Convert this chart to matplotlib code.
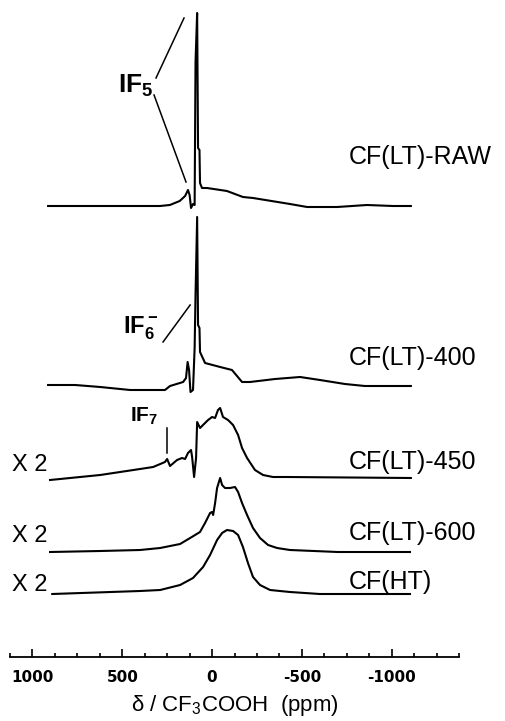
import matplotlib.pyplot as plt
from matplotlib.ticker import MultipleLocator, FixedFormatter

plt.rcParams['font.family'] = ['Liberation Sans', 'DejaVu Sans']
plt.rcParams['mathtext.default'] = 'regular'

# spectra: chemical shift (ppm) and intensity (arbitrary units)
raw_ppm = [913, 290, 235, 180, 150, 134, 125, 117, 106, 97, 92, 83, 78, 70, 67, 56, 28,
           -83, -172, -228, -434, -529, -696, -863, -1007, -1107]
raw_int = [0, 0, 1, 5, 10, 16, 11, -2, 2, 1, 144, 193, 58, 56, 23, 18, 18,
           15, 9, 8, 2, -1, -1, 1, 0, 0]

lt400_ppm = [913, 762, 623, 456, 262, 234, 161, 145, 136, 128, 120, 106, 97, 92, 83, 78,
             70, 67, 39, -45, -111, -167, -211, -351, -490, -601, -740, -851, -1107]
lt400_int = [1, 1, -1, -4, -4, 0, 4, 8, 24, 16, -6, -4, 38, 91, 169, 61,
             58, 34, 23, 19, 16, 4, 4, 7, 9, 6, 2, 0, 0]

lt450_ppm = [902, 623, 401, 328, 262, 250, 234, 195, 167, 150, 134, 117, 111, 100, 89,
             83, 67, 39, 22, 0, -17, -33, -45, -61, -89, -117, -145, -167, -195, -239,
             -284, -339, -417, -1107]
lt450_int = [-2, 3, 9, 11, 16, 19, 12, 18, 20, 19, 25, 28, 21, 1, 20,
             56, 50, 55, 58, 61, 60, 68, 70, 61, 58, 53, 43, 30, 20, 8,
             3, 1, 1, 0]

lt600_ppm = [902, 623, 401, 289, 178, 122, 67, 39, 11, 0, -6, -17, -28, -45, -56, -72,
             -100, -128, -145, -167, -195, -228, -267, -312, -362, -434, -700, -1102]
lt600_int = [0, 1, 2, 4, 8, 14, 20, 29, 39, 40, 37, 49, 64, 74, 67, 64,
             64, 65, 60, 49, 37, 24, 14, 7, 4, 2, 0, 0]

ht_ppm = [890, 401, 289, 178, 106, 50, 11, -28, -56, -83, -117, -145, -172, -200, -228,
          -267, -323, -434, -600, -1102]
ht_int = [0, 3, 4, 9, 16, 27, 39, 54, 61, 64, 63, 59, 47, 31, 17,
          9, 4, 2, 0, 0]

names = ['CF(LT)-RAW', 'CF(LT)-400', 'CF(LT)-450', 'CF(LT)-600', 'CF(HT)']
offsets = [451, 271, 179, 105, 63]
label_y = [500, 299, 195, 124, 75]
scaled = [False, False, True, True, True]

tick_vals = [1000, 500, 0, -500, -1000]
tick_text = ['1000', '500', '0', '-500', '-1000']

fig = plt.figure(figsize=(5.05, 7.21), dpi=100)
ax = fig.add_axes([10 / 505, 64 / 721, 449 / 505, 657 / 721])

spectra = [(raw_ppm, raw_int), (lt400_ppm, lt400_int), (lt450_ppm, lt450_int),
           (lt600_ppm, lt600_int), (ht_ppm, ht_int)]
for (px, iy), off, name, ly, x2 in zip(spectra, offsets, names, label_y, scaled):
    ax.plot(px, [v + off for v in iy], color='black', lw=1.5, solid_joinstyle='round')
    ax.text(-762, ly, name, fontsize=18, va='center', ha='left')
    if x2:
        ax.text(1113, ly - 3, 'X 2', fontsize=17, va='center', ha='left')

# peak assignments
ax.text(523, 564, 'IF$_5$', fontsize=19, fontweight='bold', va='baseline')
ax.plot([312, 156], [579, 639], color='black', lw=1.1)
ax.plot([323, 145], [562, 475], color='black', lw=1.1)
ax.text(495, 324, 'IF$_6^-$', fontsize=17, fontweight='bold', va='baseline')
ax.plot([273, 122], [315, 352], color='black', lw=1.1)
ax.text(456, 235, 'IF$_7$', fontsize=15, fontweight='bold', va='baseline')
ax.plot([250, 250], [229, 204], color='black', lw=1.1)

ax.set_xlim(1125, -1375)
ax.set_ylim(0, 657)
for s in ['left', 'right', 'top']:
    ax.spines[s].set_visible(False)
ax.spines['bottom'].set_linewidth(1.3)
ax.set_yticks([])
ax.set_xticks(tick_vals)
ax.xaxis.set_major_formatter(FixedFormatter(tick_text))
ax.xaxis.set_minor_locator(MultipleLocator(125))
ax.tick_params(axis='x', which='major', direction='in', length=6, width=1.2, pad=9)
ax.tick_params(axis='x', which='minor', direction='in', length=3, width=1.2)
for lab in ax.get_xticklabels():
    lab.set_family('DejaVu Sans')
    lab.set_fontweight('bold')
    lab.set_fontsize(11)
ax.set_xlabel('δ / CF$_3$COOH  (ppm)', fontsize=16, labelpad=6)

fig.savefig('out.png', dpi=100)
